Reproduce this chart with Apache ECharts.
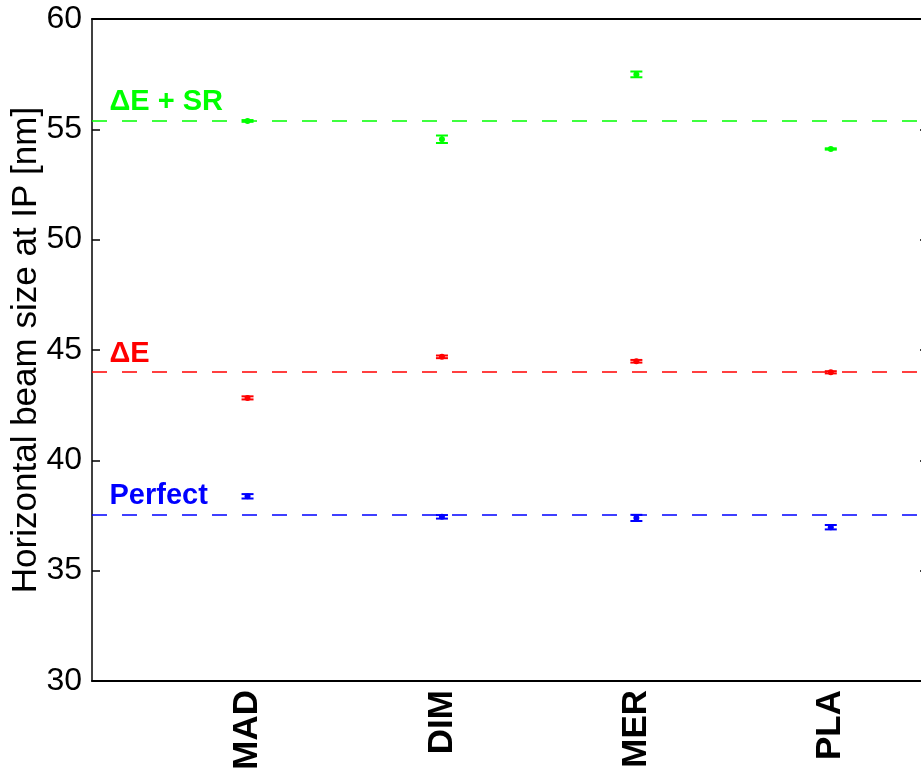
<!DOCTYPE html>
<html>
<head>
<meta charset="utf-8">
<title>Horizontal beam size at IP</title>
<script src="https://cdn.jsdelivr.net/npm/echarts@6/dist/echarts.min.js"></script>
<style>
  html, body { margin: 0; padding: 0; background: #fff; }
  #chart { width: 921px; height: 775px; }
</style>
</head>
<body>
<div id="chart"></div>
<script>
// Codes compared along the x axis (placed at x = 1..4)
const categories = ['MAD', 'DIM', 'MER', 'PLA'];

// Beam size [nm] and its error for each scenario
const srValues = [55.38, 54.55, 57.49, 54.11];
const srErrors = [0.04, 0.17, 0.13, 0.03];
const deValues = [42.83, 44.69, 44.49, 43.99];
const deErrors = [0.07, 0.06, 0.06, 0.05];
const perfectValues = [38.37, 37.44, 37.39, 36.97];
const perfectErrors = [0.10, 0.08, 0.14, 0.10];

// Reference levels (dashed lines) and their labels
const refLevels = [55.4, 44.0, 37.55];
const refNames = ['\u0394E + SR', '\u0394E', 'Perfect'];
const refColors = ['#00ff00', '#ff0000', '#0000ff'];

// Y axis ticks
const yTicks = [30, 35, 40, 45, 50, 55, 60];

const FONT = '"Liberation Sans", Arial, Helvetica, sans-serif';

function toPoints(values, errors) {
  return values.map((v, i) => [i + 1, v, errors[i]]);
}

function errorBarRenderer(color) {
  return function (params, api) {
    const x = api.value(0), y = api.value(1), e = api.value(2);
    const hi = api.coord([x, y + e]);
    const lo = api.coord([x, y - e]);
    const cap = 6;
    return {
      type: 'group',
      children: [
        { type: 'line', shape: { x1: hi[0], y1: hi[1], x2: lo[0], y2: lo[1] }, style: { stroke: color, lineWidth: 1.5 } },
        { type: 'line', shape: { x1: hi[0] - cap, y1: hi[1], x2: hi[0] + cap, y2: hi[1] }, style: { stroke: color, lineWidth: 2 } },
        { type: 'line', shape: { x1: lo[0] - cap, y1: lo[1], x2: lo[0] + cap, y2: lo[1] }, style: { stroke: color, lineWidth: 2 } }
      ]
    };
  };
}

const groups = [
  { values: srValues, errors: srErrors },
  { values: deValues, errors: deErrors },
  { values: perfectValues, errors: perfectErrors }
];

const series = [];
groups.forEach((g, k) => {
  const color = refColors[k];
  const pts = toPoints(g.values, g.errors);
  series.push({
    type: 'custom',
    renderItem: errorBarRenderer(color),
    data: pts,
    z: 3,
    silent: true
  });
  series.push({
    type: 'scatter',
    data: pts.map(p => [p[0], p[1]]),
    symbol: 'circle',
    symbolSize: 6,
    itemStyle: { color: color, opacity: 1 },
    z: 4,
    silent: true,
    markLine: {
      silent: true,
      symbol: 'none',
      label: { show: false },
      lineStyle: { color: color, type: [15, 15], width: 1.5, opacity: 1 },
      data: [{ yAxis: refLevels[k] }]
    }
  });
  // level label, drawn just above the dashed line near the left axis
  series.push({
    type: 'scatter',
    data: [[0.29, refLevels[k]]],
    symbolSize: 0,
    silent: true,
    z: 5,
    itemStyle: { opacity: 1 },
    label: {
      show: true,
      position: [0, 0],
      align: 'left',
      verticalAlign: 'bottom',
      offset: [0, -4],
      formatter: refNames[k],
      color: color,
      opacity: 1,
      fontFamily: FONT,
      fontWeight: 'bold',
      fontSize: 29
    }
  });
});

const chart = echarts.init(document.getElementById('chart'), null, { renderer: 'canvas' });
chart.setOption({
  animation: false,
  backgroundColor: '#ffffff',
  grid: { left: 92, top: 19, right: -7, bottom: 94, show: false, outerBoundsMode: 'none', containLabel: false },
  xAxis: [
    {
      type: 'value',
      min: 0.2,
      max: 4.5,
      position: 'bottom',
      axisLine: { show: true, lineStyle: { color: '#000', width: 2 } },
      axisTick: { show: false },
      splitLine: { show: false },
      axisLabel: {
        show: true,
        customValues: [1, 2, 3, 4],
        rotate: 90,
        margin: 9,
        formatter: v => categories[Math.round(v) - 1] || '',
        color: '#000',
        fontFamily: FONT,
        fontWeight: 'bold',
        fontSize: 35
      }
    },
    {
      type: 'value',
      min: 0.2,
      max: 4.5,
      position: 'top',
      axisLine: { show: true, lineStyle: { color: '#000', width: 2 } },
      axisTick: { show: false },
      axisLabel: { show: false },
      splitLine: { show: false }
    }
  ],
  yAxis: [
    {
      type: 'value',
      min: yTicks[0],
      max: yTicks[yTicks.length - 1],
      interval: 5,
      position: 'left',
      name: 'Horizontal beam size at IP [nm]',
      nameLocation: 'middle',
      nameGap: 48,
      nameMoveOverlap: false,
      nameTextStyle: { color: '#000', fontFamily: FONT, fontSize: 35 },
      axisLine: { show: true, lineStyle: { color: '#000', width: 1.5 } },
      axisTick: { show: true, inside: true, length: 8, lineStyle: { color: '#000', width: 1.5 } },
      splitLine: { show: false },
      axisLabel: {
        color: '#000',
        fontFamily: FONT,
        fontSize: 32,
        margin: 10
      }
    },
    {
      type: 'value',
      min: yTicks[0],
      max: yTicks[yTicks.length - 1],
      interval: 5,
      position: 'right',
      axisLine: { show: true, lineStyle: { color: '#000', width: 1.5 } },
      axisTick: { show: true, inside: true, length: 8, lineStyle: { color: '#000', width: 1.5 } },
      splitLine: { show: false },
      axisLabel: { show: false }
    }
  ],
  series: series
});
</script>
</body>
</html>
